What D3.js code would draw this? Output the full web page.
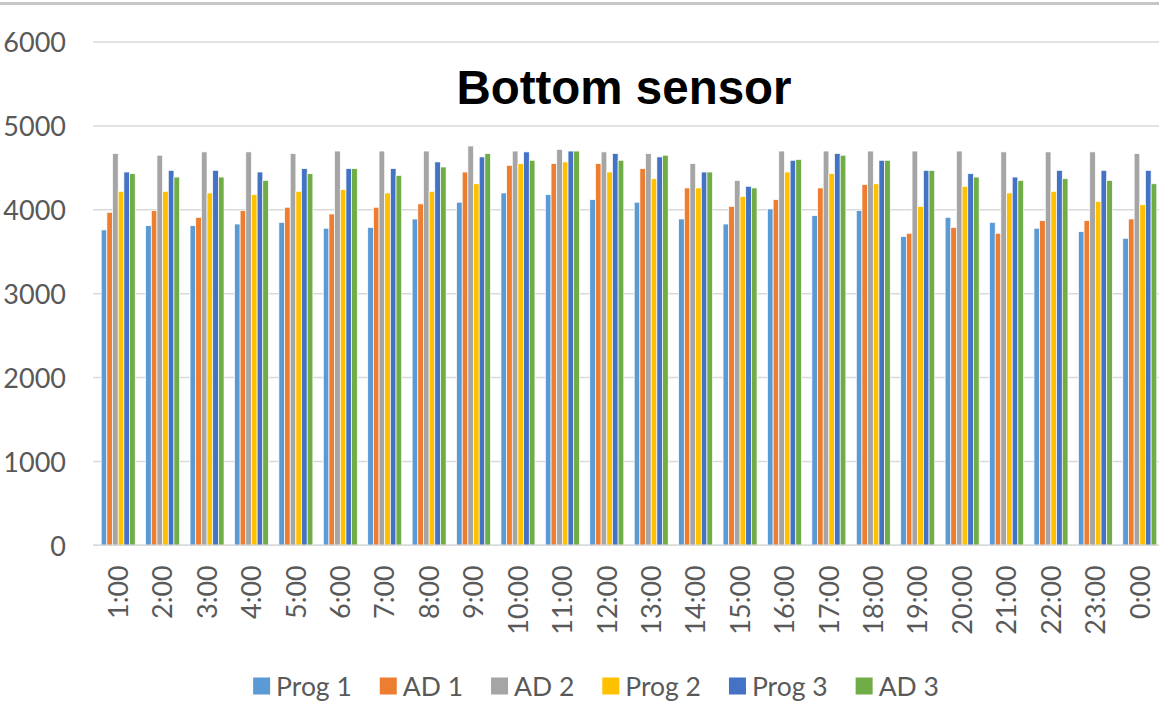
<!DOCTYPE html>
<html>
<head>
<meta charset="utf-8">
<script src="https://cdn.jsdelivr.net/npm/d3@7"></script>
<style>
  html, body { margin: 0; padding: 0; background: #fff; }
  svg { display: block; }
</style>
</head>
<body>
<svg id="chart" width="1159" height="728"></svg>
<script>
// Hourly readings of the bottom sensor for each program / AD channel
const hours = ["1:00","2:00","3:00","4:00","5:00","6:00","7:00","8:00","9:00","10:00","11:00","12:00",
               "13:00","14:00","15:00","16:00","17:00","18:00","19:00","20:00","21:00","22:00","23:00","0:00"];
const seriesNames = ["Prog 1", "AD 1", "AD 2", "Prog 2", "Prog 3", "AD 3"];
const prog1 = [3760,3810,3810,3830,3850,3780,3790,3890,4090,4200,4180,4120,4090,3890,3830,4010,3930,3990,3680,3910,3850,3780,3740,3660];
const ad1   = [3970,3990,3910,3990,4030,3950,4030,4070,4450,4530,4550,4550,4490,4260,4040,4120,4260,4300,3720,3790,3720,3870,3870,3890];
const ad2   = [4670,4650,4690,4690,4670,4700,4700,4700,4760,4700,4720,4690,4670,4550,4350,4700,4700,4700,4700,4700,4690,4690,4690,4670];
const prog2 = [4220,4220,4200,4180,4220,4240,4200,4220,4310,4550,4570,4450,4370,4260,4160,4450,4430,4310,4040,4280,4200,4220,4100,4060];
const prog3 = [4450,4470,4470,4450,4490,4490,4490,4570,4630,4690,4700,4670,4630,4450,4280,4590,4670,4590,4470,4430,4390,4470,4470,4470];
const ad3   = [4430,4390,4390,4350,4430,4490,4410,4510,4670,4590,4700,4590,4650,4450,4260,4600,4650,4590,4470,4390,4350,4370,4350,4310];
const yTicks = [0, 1000, 2000, 3000, 4000, 5000, 6000];

const seriesValues = [prog1, ad1, ad2, prog2, prog3, ad3];
const colors = ["#5B9BD5", "#ED7D31", "#A5A5A5", "#FFC000", "#4472C4", "#70AD47"];

const svg = d3.select("#chart");
const W = 1159;
const labelFont = "Lato, 'Open Sans', sans-serif";
const textGray = "#595959";

// thin frame line along the top edge
svg.append("rect").attr("x", 0).attr("y", 2).attr("width", W).attr("height", 3).attr("fill", "#c6c6c6");

const x = d3.scaleBand().domain(hours).range([96, 1162]).paddingInner(0.235).paddingOuter(0.1175);
const xs = d3.scaleBand().domain(seriesNames).range([0, x.bandwidth()]);
const y = d3.scaleLinear().domain([0, 6000]).range([545.3, 42]);

// gridlines
svg.append("g").selectAll("line").data(yTicks).join("line")
  .attr("x1", 93).attr("x2", W)
  .attr("y1", d => y(d)).attr("y2", d => y(d))
  .attr("stroke", "#d9d9d9").attr("stroke-width", 1.5);

// y-axis labels
const yAxis = d3.axisLeft(y).tickValues(yTicks).tickSize(0).tickPadding(0).tickFormat(d3.format("d"));
const gy = svg.append("g").attr("transform", "translate(66,0)").call(yAxis);
gy.select(".domain").remove();
gy.selectAll("text").attr("font-family", labelFont).attr("font-size", 27).attr("fill", textGray).attr("dy", "0.36em");

// bars
const groups = svg.append("g").selectAll("g").data(hours).join("g")
  .attr("transform", d => `translate(${x(d)},0)`);
groups.selectAll("rect")
  .data((h, i) => seriesNames.map((s, k) => ({ s, k, v: seriesValues[k][i] })))
  .join("rect")
  .attr("x", d => xs(d.s))
  .attr("width", xs.bandwidth())
  .attr("y", d => y(d.v))
  .attr("height", d => y(0) - y(d.v))
  .attr("fill", d => colors[d.k])
  .attr("stroke", "#fff").attr("stroke-width", 0.7);

// x-axis (category labels, rotated)
const xAxis = d3.axisBottom(x).tickSize(0).tickPadding(0);
const gx = svg.append("g").attr("transform", "translate(0,545.3)").call(xAxis);
gx.select(".domain").attr("stroke", "#d9d9d9").attr("stroke-width", 1.5).attr("d", `M93,0H${W}`);
gx.selectAll(".tick text")
  .attr("font-family", labelFont).attr("font-size", 27).attr("fill", textGray)
  .attr("text-anchor", "end").attr("transform", "translate(0,20) rotate(-90)")
  .attr("x", 0).attr("y", 0).attr("dy", "0.36em");

// title
svg.append("text").attr("x", 624).attr("y", 104).attr("text-anchor", "middle")
  .attr("font-family", "'Liberation Sans', Arial, sans-serif").attr("font-weight", "bold")
  .attr("font-size", 47.5).attr("fill", "#000").text("Bottom sensor");

// legend
const legend = svg.append("g").attr("transform", "translate(0,686)");
const items = legend.selectAll("g").data(seriesNames).join("g");
items.append("rect").attr("x", 0).attr("y", -8.5).attr("width", 17).attr("height", 17)
  .attr("fill", (d, i) => colors[i]);
items.append("text").attr("x", 23).attr("y", 0).attr("dy", "0.36em")
  .attr("font-family", labelFont).attr("font-size", 26.5).attr("fill", textGray).text(d => d);
const itemGap = 28;
let cursor = 0;
const offsets = [];
items.each(function () {
  offsets.push(cursor);
  const w = 23 + this.querySelector("text").getComputedTextLength();
  cursor += w + itemGap;
});
const total = cursor - itemGap;
const start = 596 - total / 2;
items.attr("transform", (d, i) => `translate(${start + offsets[i]},0)`);
</script>
</body>
</html>
